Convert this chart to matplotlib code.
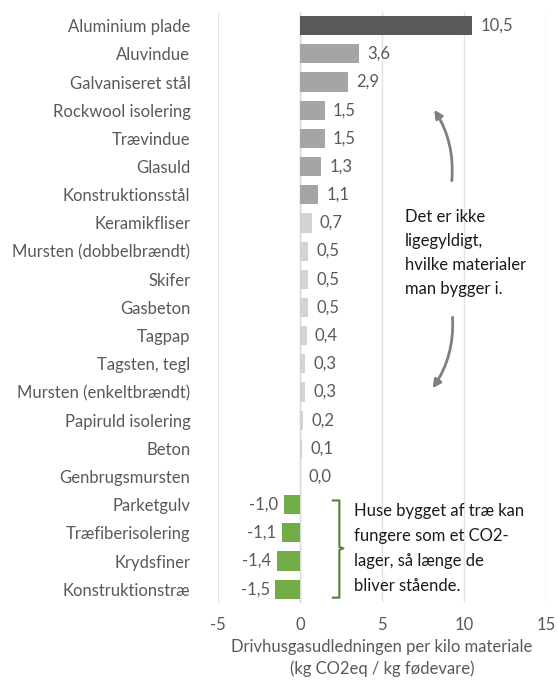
import matplotlib.pyplot as plt
import numpy as np

plt.rcParams['font.family'] = ['Lato', 'DejaVu Sans']

materialer = ['Aluminium plade', 'Aluvindue', 'Galvaniseret stål', 'Rockwool isolering',
              'Trævindue', 'Glasuld', 'Konstruktionsstål', 'Keramikfliser',
              'Mursten (dobbelbrændt)', 'Skifer', 'Gasbeton', 'Tagpap', 'Tagsten, tegl',
              'Mursten (enkeltbrændt)', 'Papiruld isolering', 'Beton', 'Genbrugsmursten',
              'Parketgulv', 'Træfiberisolering', 'Krydsfiner', 'Konstruktionstræ']
vaerdier = [10.5, 3.6, 2.9, 1.5, 1.5, 1.3, 1.1, 0.7, 0.5, 0.5, 0.5, 0.4, 0.3, 0.3,
            0.2, 0.1, 0.0, -1.0, -1.1, -1.4, -1.5]
farver = ['#595959'] + ['#A5A5A5'] * 6 + ['#D3D3D3'] * 10 + ['#70AD47'] * 4
xticks = [-5, 0, 5, 10, 15]

tekst = '#595959'
fs = 12

fig = plt.figure(figsize=(5.58, 6.84), dpi=100)
ax = fig.add_axes([0.391, 0.118, 0.587, 0.865])

y = np.arange(len(materialer))
ax.barh(y, vaerdier, height=0.68, color=farver, zorder=3)
ax.set_ylim(len(materialer) - 0.5, -0.5)
ax.set_xlim(-5, 15)
ax.set_xticks(xticks)
ax.set_xticklabels([str(t) for t in xticks])
ax.set_yticks(y)
ax.set_yticklabels(materialer)
ax.tick_params(axis='y', length=0, pad=20, labelsize=fs, labelcolor=tekst)
ax.tick_params(axis='x', length=0, pad=10, labelsize=fs, labelcolor=tekst)
ax.grid(axis='x', color='#E3E3E3', linewidth=1, zorder=0)
for s in ax.spines.values():
    s.set_visible(False)
ax.axvline(0, color='#D9D9D9', linewidth=1, zorder=2)

for yi, v in zip(y, vaerdier):
    lbl = f'{v:.1f}'.replace('.', ',')
    if v >= 0:
        ax.annotate(lbl, (v, yi), xytext=(6, 0), textcoords='offset points',
                    ha='left', va='center', fontsize=fs, color=tekst)
    else:
        ax.annotate(lbl, (v, yi), xytext=(-4, 0), textcoords='offset points',
                    ha='right', va='center', fontsize=fs, color=tekst)

ax.set_xlabel('Drivhusgasudledningen per kilo materiale\n(kg CO2eq / kg fødevare)',
              fontsize=fs, color=tekst, labelpad=4, linespacing=1.4)

# kommentarer
ax.text(6.4, 6.5, 'Det er ikke\nligegyldigt,\nhvilke materialer\nman bygger i.',
        ha='left', va='top', fontsize=fs, color='#1A1A1A', linespacing=1.62)
ax.annotate('', xy=(8.1, 2.9), xytext=(9.25, 5.6),
            arrowprops=dict(arrowstyle='-|>', color='#7F7F7F', lw=2,
                            connectionstyle='arc3,rad=0.18', mutation_scale=12))
ax.annotate('', xy=(8.0, 12.95), xytext=(9.3, 10.25),
            arrowprops=dict(arrowstyle='-|>', color='#7F7F7F', lw=2,
                            connectionstyle='arc3,rad=-0.18', mutation_scale=12))

ax.text(3.3, 16.95, 'Huse bygget af træ kan\nfungere som et CO2-\nlager, så længe de\nbliver stående.',
        ha='left', va='top', fontsize=fs, color='#1A1A1A', linespacing=1.68)
gr = '#548235'
bx0, bx1, bx2 = 2.0, 2.4, 2.65
ax.plot([bx0, bx1, bx1, bx2, bx1, bx1, bx0],
        [16.85, 16.85, 18.5, 18.55, 18.6, 20.3, 20.3],
        color=gr, lw=1.5, clip_on=False, zorder=4)

fig.savefig('out.png', dpi=100)
